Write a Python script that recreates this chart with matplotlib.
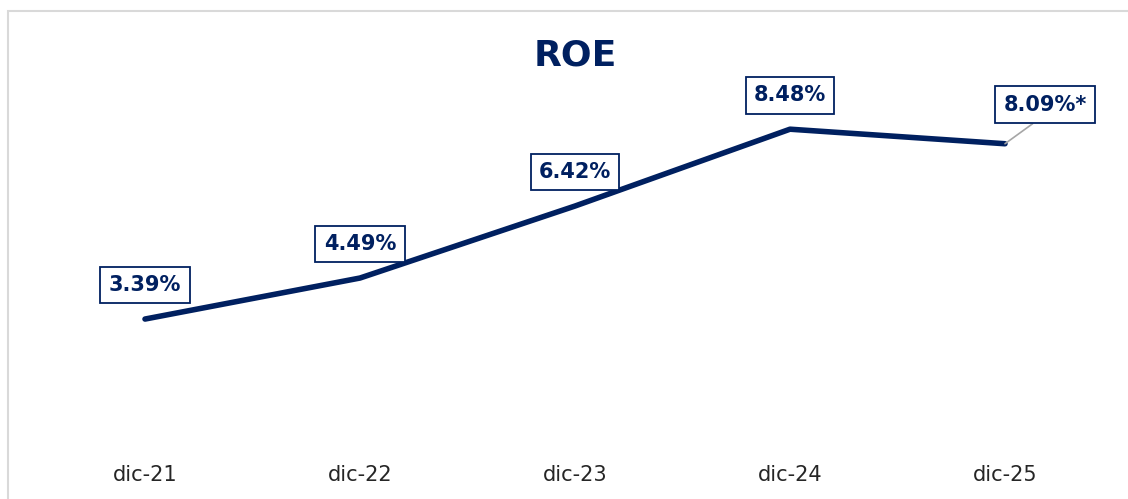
import matplotlib
matplotlib.use("Agg")
import matplotlib.pyplot as plt
from matplotlib.patches import Rectangle

categories = ["dic-21", "dic-22", "dic-23", "dic-24", "dic-25"]
roe = [3.39, 4.49, 6.42, 8.48, 8.09]
labels = ["3.39%", "4.49%", "6.42%", "8.48%", "8.09%*"]

NAVY = "#002060"
W, H = 1128, 499
plt.rcParams['font.family'] = ['DejaVu Sans']
fig = plt.figure(figsize=(W / 100, H / 100), dpi=100)

# outer chart border
fig.patches.append(Rectangle((8 / W, -0.05), 1.2, 1 - 11 / H + 0.05, transform=fig.transFigure,
                             fill=False, edgecolor="#d9d9d9", lw=1.5))

ax = fig.add_axes([37.5 / W, 1 - 445.5 / H, 1075 / W, (445.5 - 72.5) / H])
x = list(range(len(categories)))
ax.plot(x, roe, color=NAVY, lw=4.0, solid_capstyle='round', solid_joinstyle='round', zorder=3)
ax.set_xlim(-0.5, len(categories) - 0.5)
ax.set_ylim(0, 10)
ax.set_yticks([])
ax.set_xticks(x)
ax.set_xticklabels(categories, fontsize=15, color="#262626")
ax.tick_params(axis='x', length=0, pad=14)
for s in ax.spines.values():
    s.set_visible(False)

bbox = dict(boxstyle="square,pad=0.4", fc="white", ec=NAVY, lw=1.3)
for i, (v, lab) in enumerate(zip(roe, labels)):
    if i == len(roe) - 1:
        ax.annotate(lab, xy=(i, v), xytext=(40, 39), textcoords="offset pixels",
                    ha="center", va="center", fontsize=15, fontweight="bold", color=NAVY,
                    bbox=bbox, zorder=5,
                    arrowprops=dict(arrowstyle="-", color="#a6a6a6", lw=1.2,
                                    shrinkA=0, shrinkB=0, relpos=(0.5, 0)))
    else:
        ax.annotate(lab, xy=(i, v), xytext=(0, 34), textcoords="offset pixels",
                    ha="center", va="center", fontsize=15, fontweight="bold", color=NAVY,
                    bbox=bbox, zorder=5)

fig.text(575 / W, 1 - 55 / H, "ROE", ha="center", va="center", fontsize=26,
         fontweight="bold", color=NAVY)

fig.savefig("out.png", dpi=100, facecolor="white")
